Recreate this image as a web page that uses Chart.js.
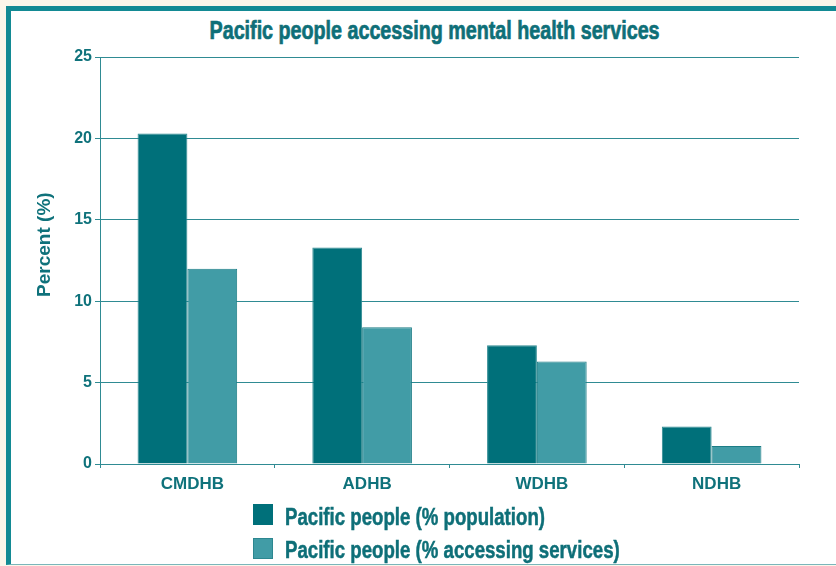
<!DOCTYPE html>
<html><head><meta charset="utf-8">
<script src="https://cdn.jsdelivr.net/npm/chart.js@4"></script>
<style>
html,body{margin:0;padding:0;background:#fbf6ea;width:836px;height:566px;overflow:hidden;position:relative}
#frame{position:absolute;left:6px;top:6px;width:840px;height:553px;background:#fff;border-left:5px solid #138a94;border-top:5px solid #138a94;border-bottom:1px solid #7ab6bb}
#wrap{position:absolute;left:0;top:0;width:836px;height:566px}
.cond{font-family:'Liberation Sans',Arial,Helvetica,sans-serif;font-weight:bold;color:#0e6f78;white-space:nowrap;-webkit-text-stroke:0.5px #0e6f78}
#titleBox{position:absolute;left:0;width:870px;top:18px;text-align:center}
#title{display:inline-block;font-size:25px;line-height:25px;-webkit-text-stroke:0.7px #0e6f78}
.leg{position:absolute;left:253px;font-size:23.5px;line-height:23.5px}
.sw{position:absolute;left:0;width:20px;height:21px}
.lt{position:absolute;left:32px;transform-origin:0 50%}
</style></head>
<body>
<div id="frame"></div>
<div id="titleBox"><span id="title" class="cond">Pacific people accessing mental health services</span></div>
<div id="wrap"><canvas id="c" width="836" height="566"></canvas></div>
<div class="leg cond" style="top:504px"><div class="sw" style="background:#00707a;top:0"></div><div class="lt" id="l1" style="top:2px">Pacific people (% population)</div></div>
<div class="leg cond" style="top:538px"><div class="sw" style="background:#419ca6;top:0;box-shadow:inset 0 0 0 1px #2c8790"></div><div class="lt" id="l2" style="top:1px">Pacific people (% accessing services)</div></div>
<script>
const categories = ['CMDHB', 'ADHB', 'WDHB', 'NDHB'];
const populationPct = [20.3, 13.3, 7.3, 2.3];
const accessingPct = [12.0, 8.4, 6.3, 1.1];
const yTicks = [0, 5, 10, 15, 20, 25];

// condense title / legend text (reference uses a condensed face)
(function(){
  const t = document.getElementById('title');
  const s = 450 / t.getBoundingClientRect().width;
  t.style.transform = 'scaleX(' + s + ')';
  const l1 = document.getElementById('l1'), l2 = document.getElementById('l2');
  const ls = 260 / l1.getBoundingClientRect().width;
  l1.style.transform = 'scaleX(' + ls + ')';
  l2.style.transform = 'scaleX(' + ls + ')';
})();

const teal = '#0f727b';
const gridCol = '#2f8b93';
const tickFont = {family: "'Liberation Sans', Arial, sans-serif", weight: 'bold', size: 16};

new Chart(document.getElementById('c'), {
  type: 'bar',
  data: {
    labels: categories,
    datasets: [
      {label: 'Pacific people (% population)', data: populationPct, backgroundColor: '#00707a', borderColor: '#2f8a92', borderWidth: 1},
      {label: 'Pacific people (% accessing services)', data: accessingPct, backgroundColor: '#419ca6', borderColor: '#1d7d86', borderWidth: 1}
    ]
  },
  options: {
    responsive: false,
    animation: false,
    layout: {padding: {top: 57, right: 37, bottom: 0, left: 0}},
    datasets: {bar: {categoryPercentage: 0.57, barPercentage: 1.0}},
    plugins: {legend: {display: false}, title: {display: false}, tooltip: {enabled: false}},
    scales: {
      x: {
        afterFit: s => { s.height = 102; },
        border: {color: gridCol, width: 1},
        grid: {display: true, drawOnChartArea: false, drawTicks: true, tickLength: 4, color: gridCol},
        ticks: {color: teal, font: {family: "'Liberation Sans', Arial, sans-serif", weight: 'bold', size: 17}, padding: 6, labelOffset: 5}
      },
      y: {
        min: 0, max: 25,
        afterFit: s => { s.width = 100; },
        afterBuildTicks: s => { s.ticks = yTicks.map(v => ({value: v})); },
        border: {color: gridCol, width: 1},
        grid: {color: gridCol, lineWidth: 1, tickLength: 5},
        ticks: {color: teal, font: tickFont, padding: 3},
        title: {display: true, text: '      Percent (%)', color: teal, font: {family: "'Liberation Sans', Arial, sans-serif", weight: 'bold', size: 19}, padding: {top: 33, bottom: 0}}
      }
    }
  }
});
</script>
</body></html>
